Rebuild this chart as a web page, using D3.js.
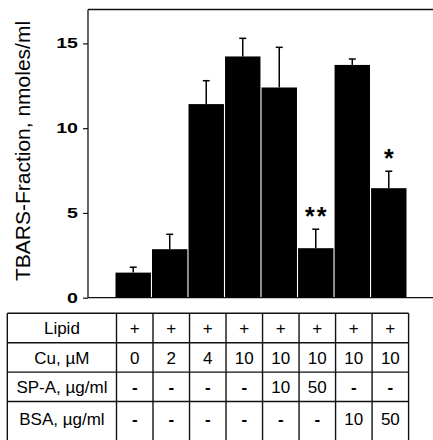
<!DOCTYPE html>
<html>
<head>
<meta charset="utf-8">
<script src="https://cdn.jsdelivr.net/npm/d3@7"></script>
<style>
  html, body { margin: 0; padding: 0; background: #fff; }
  svg { display: block; font-family: "Liberation Sans", Arial, sans-serif; }
</style>
</head>
<body>
<svg id="chart" width="433" height="440"></svg>
<script>
// ---- data ----
const groups = ["1", "2", "3", "4", "5", "6", "7", "8"];
const means = [1.48, 2.86, 11.42, 14.23, 12.4, 2.92, 13.73, 6.46];
const errors = [0.32, 0.88, 1.38, 1.07, 2.37, 1.12, 0.35, 1.0];
const significance = ["", "", "", "", "", "**", "", "*"];
const yTicks = [0, 5, 10, 15];
const yLabel = "TBARS-Fraction, nmoles/ml";
const rowLabels = ["Lipid", "Cu, µM", "SP-A, µg/ml", "BSA, µg/ml"];
const lipidRow = ["+", "+", "+", "+", "+", "+", "+", "+"];
const cuRow = ["0", "2", "4", "10", "10", "10", "10", "10"];
const spaRow = ["-", "-", "-", "-", "10", "50", "-", "-"];
const bsaRow = ["-", "-", "-", "-", "-", "-", "10", "50"];
const tableRows = [lipidRow, cuRow, spaRow, bsaRow];

// ---- layout ----
const svg = d3.select("#chart");
const plotLeft = 88, plotRight = 433, plotTop = 9.5, plotBottom = 297.7;

const x = d3.scaleBand().domain(groups).range([115.5, 406.5]).paddingInner(0.03).paddingOuter(0);
const y = d3.scaleLinear().domain([0, 17]).range([plotBottom, plotTop]);

// frame lines
const frame = svg.append("g").attr("stroke", "#111").attr("stroke-width", 1.3).attr("fill", "none");
frame.append("line").attr("x1", plotLeft).attr("x2", plotRight).attr("y1", plotTop).attr("y2", plotTop);
frame.append("line").attr("x1", plotLeft).attr("x2", plotRight).attr("y1", plotBottom).attr("y2", plotBottom);

// y axis
const yAxis = svg.append("g")
  .attr("transform", `translate(${plotLeft},0)`)
  .call(d3.axisLeft(y).tickValues(yTicks).tickSize(5).tickPadding(5).tickSizeOuter(0));
yAxis.select(".domain").attr("stroke", "#111").attr("stroke-width", 1.3)
  .attr("d", `M0,${plotTop}V${plotBottom}`);
yAxis.selectAll(".tick line").attr("stroke", "#111").attr("stroke-width", 1.2);
const tickScaleX = 1.4;
yAxis.selectAll(".tick text")
  .attr("font-family", "Liberation Sans, Arial, sans-serif")
  .attr("font-size", 14).attr("font-weight", "bold").attr("fill", "#000")
  .attr("x", -10 / tickScaleX)
  .attr("transform", `scale(${tickScaleX},1)`);

// y label
svg.append("text")
  .attr("transform", `translate(30,151) rotate(-90)`)
  .attr("text-anchor", "middle")
  .attr("font-size", 21)
  .attr("fill", "#000")
  .text(yLabel);

// bars
const data = groups.map((g, i) => ({ g, m: means[i], e: errors[i], s: significance[i] }));
svg.append("g").selectAll("rect").data(data).join("rect")
  .attr("x", d => x(d.g))
  .attr("width", x.bandwidth())
  .attr("y", d => y(d.m))
  .attr("height", d => y(0) - y(d.m))
  .attr("fill", "#000");

// error bars
const eb = svg.append("g").attr("stroke", "#000").attr("stroke-width", 1.5);
data.forEach(d => {
  const cx = x(d.g) + x.bandwidth() / 2;
  eb.append("line").attr("x1", cx).attr("x2", cx).attr("y1", y(d.m)).attr("y2", y(d.m + d.e));
  eb.append("line").attr("x1", cx - 3.5).attr("x2", cx + 3.5).attr("y1", y(d.m + d.e)).attr("y2", y(d.m + d.e));
});

// significance stars
svg.append("g").selectAll("text").data(data.filter(d => d.s)).join("text")
  .attr("x", d => x(d.g) + x.bandwidth() / 2 + 1)
  .attr("y", d => y(d.m + d.e) - 4)
  .attr("text-anchor", "middle")
  .attr("font-size", 25)
  .attr("font-weight", "bold")
  .attr("letter-spacing", 2)
  .attr("fill", "#000")
  .text(d => d.s);

// ---- table ----
const tableLeft = 7.3, tableTop = 313.3, rowH = 29.4, tableBottom = 445;
const step = x.step();
const colStart = x.range()[0] + 1;
const colLines = d3.range(groups.length + 1).map(i => colStart + i * step);
const tbl = svg.append("g").attr("stroke", "#111").attr("stroke-width", 1.4).attr("fill", "none");
d3.range(4).forEach(r => {
  const yy = tableTop + r * rowH;
  tbl.append("line").attr("x1", tableLeft).attr("x2", colLines[colLines.length - 1]).attr("y1", yy).attr("y2", yy);
});
[tableLeft, ...colLines].forEach(xx => {
  tbl.append("line").attr("x1", xx).attr("x2", xx).attr("y1", tableTop).attr("y2", tableBottom);
});

const rowCenters = [tableTop + rowH * 0.5, tableTop + rowH * 1.5, tableTop + rowH * 2.5, tableTop + rowH * 3.5 + 3];
const tt = svg.append("g").attr("font-size", 17).attr("fill", "#000").attr("text-anchor", "middle");
rowLabels.forEach((lab, r) => {
  tt.append("text").attr("x", (tableLeft + colLines[0]) / 2).attr("y", rowCenters[r]).attr("dy", "0.36em").text(lab);
});
tableRows.forEach((row, r) => {
  row.forEach((v, i) => {
    const cx = (colLines[i] + colLines[i + 1]) / 2;
    tt.append("text").attr("x", cx).attr("y", rowCenters[r]).attr("dy", "0.36em")
      .attr("font-weight", v === "-" ? "bold" : "normal")
      .text(v);
  });
});
</script>
</body>
</html>
